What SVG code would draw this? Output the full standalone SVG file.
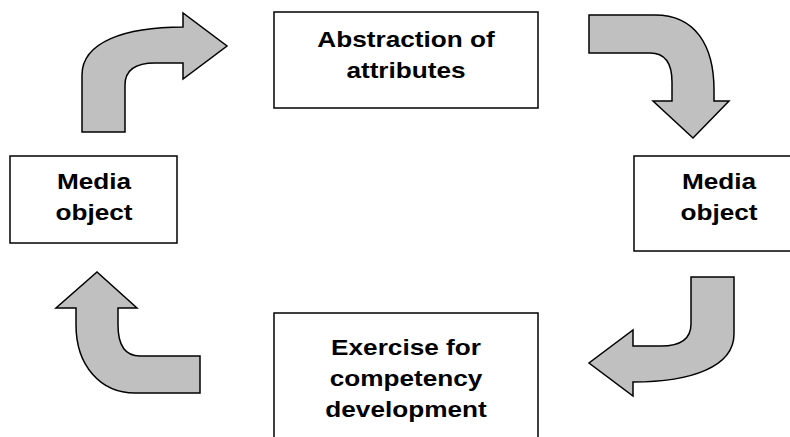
<svg xmlns="http://www.w3.org/2000/svg" width="790" height="437" viewBox="0 0 790 437">
<style>
.box{fill:#ffffff;stroke:#000000;stroke-width:1.5}
.arr{fill:#c0c0c0;stroke:#000000;stroke-width:1.5;stroke-linejoin:miter}
.lbl{font-family:"Liberation Sans",Arial,sans-serif;font-weight:bold;font-size:22px;fill:#000000;text-anchor:middle}
</style>
<rect width="790" height="437" fill="#ffffff"/>
<g id="connectors">
<path id="arrow1" class="arr" d="M 82,132 L 82,75 C 82,42 125,27 183,27 L 183,13 L 227,46 L 183,79 L 183,63 L 155,63 C 135,63 125,70 125,85 L 125,132 Z"/>
<path id="arrow2" class="arr" d="M 589,15 L 655,15 C 695,15 714,45 714,90 L 714,101 L 729,101 L 693,138 L 653,101 L 672,101 L 672,82 C 672,63 665,53 650,53 L 589,53 Z"/>
<path id="arrow3" class="arr" transform="translate(816,409) rotate(180)" d="M 82,132 L 82,75 C 82,42 125,27 183,27 L 183,13 L 227,46 L 183,79 L 183,63 L 155,63 C 135,63 125,70 125,85 L 125,132 Z"/>
<path id="arrow4" class="arr" d="M 200,356 L 200,393 L 135,393 C 100,393 76,365 76,325 L 76,308 L 56,308 L 97,272 L 137,308 L 118,308 L 118,325 C 118,345 125,356 140,356 Z"/>
</g>
<g id="node-abstraction">
<rect class="box" x="274" y="12" width="264" height="96"/>
<text class="lbl" transform="translate(406,47) scale(1.19,1)"><tspan x="0" y="0">Abstraction of</tspan><tspan x="0" y="31.5">attributes</tspan></text>
</g>
<g id="node-media-right">
<rect class="box" x="634" y="156" width="170" height="95"/>
<text class="lbl" transform="translate(719,189) scale(1.19,1)"><tspan x="0" y="0">Media</tspan><tspan x="0" y="31.5">object</tspan></text>
</g>
<g id="node-exercise">
<rect class="box" x="274" y="313" width="264" height="140"/>
<text class="lbl" transform="translate(406,355) scale(1.19,1)"><tspan x="0" y="0">Exercise for</tspan><tspan x="0" y="31">competency</tspan><tspan x="0" y="62">development</tspan></text>
</g>
<g id="node-media-left">
<rect class="box" x="10" y="156" width="167" height="87"/>
<text class="lbl" transform="translate(94,189) scale(1.19,1)"><tspan x="0" y="0">Media</tspan><tspan x="0" y="31.5">object</tspan></text>
</g>
</svg>
